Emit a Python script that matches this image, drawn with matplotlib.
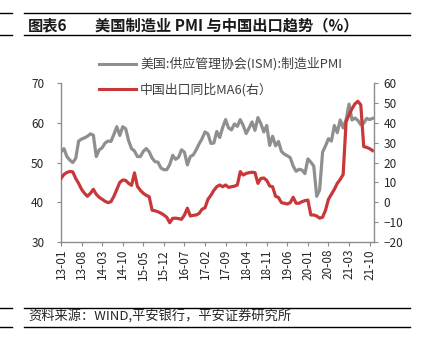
"""
美国制造业PMI 与 中国出口同比MA6 - 双轴折线图
"""

import matplotlib
matplotlib.use("Agg")
import matplotlib.pyplot as plt
from matplotlib.lines import Line2D

plt.rcParams["font.family"] = ["Noto Sans CJK SC", "DejaVu Sans"]

# 月份 2013-01 .. 2021-11
tick_labels = ["13-01", "13-08", "14-03", "14-10", "15-05", "15-12", "16-07", "17-02",
               "17-09", "18-04", "18-11", "19-06", "20-01", "20-08", "21-03", "21-10"]

# 美国:供应管理协会(ISM):制造业PMI  (左轴)
pmi = [52.7, 53.5, 51.5, 50.6, 50.0, 51.0, 55.4, 55.9, 56.2, 56.6, 57.2, 56.9,
       51.5, 53.2, 53.7, 54.9, 55.4, 55.3, 57.1, 59.0, 56.8, 59.0, 58.5, 55.5,
       53.5, 52.9, 51.5, 51.5, 52.8, 53.5, 52.7, 51.1, 50.2, 50.1, 48.6, 48.2,
       48.2, 49.5, 51.8, 50.8, 51.3, 53.2, 52.6, 49.4, 51.5, 51.9, 53.2, 54.7,
       56.0, 57.7, 57.2, 54.8, 54.9, 57.8, 56.3, 58.8, 60.8, 58.7, 58.2, 59.7,
       59.1, 60.8, 59.3, 57.3, 58.7, 60.2, 58.1, 61.3, 59.8, 57.7, 59.3, 54.3,
       56.6, 54.2, 55.3, 52.8, 52.1, 51.7, 51.2, 49.1, 47.8, 48.3, 48.1, 47.2,
       50.9, 50.1, 49.1, 41.5, 43.1, 52.6, 54.2, 56.0, 55.4, 59.3, 57.5, 60.7,
       58.7, 60.8, 64.7, 60.7, 61.2, 60.6, 59.5, 59.9, 61.1, 60.8, 61.1]

# 中国出口同比MA6 (右轴)
export_ma6 = [12, 14, 15, 15.5, 15.3, 12, 9.5, 6.5, 4.5, 3, 4.5, 6.5,
              4, 2.5, 1.5, 0.5, -0.2, 0.3, 3, 6.5, 10, 11.2, 11, 9.5,
              8.5, 14.8, 8, 6, 4.5, 3.5, 2.8, -4, -4.3, -4.8, -5.5, -6.4,
              -7.6, -10.3, -8.1, -8, -8.2, -8.6, -6.4, -3, -6.9, -6.6, -6.4, -5.6,
              -3.5, -2.8, 1.5, 3.5, 6, 7.8, 8.7, 7.8, 8.7, 7.5, 7.8, 8.1,
              8.7, 15.4, 13.7, 14.5, 14.9, 15.1, 14.9, 9.5, 12, 12.2, 11, 8.2,
              7.8, 3, 2.4, -0.2, -0.5, -0.9, -0.2, 2.5, -0.5, -0.5, 0.3, 0.8,
              1.1, -6.4, -6.4, -6.9, -8, -7.5, -4, 1.5, 4, 6.5, 9.5, 11.5,
              14, 40.5, 44, 47, 49.5, 50.8, 49, 28, 27.6, 27, 26]

GRAY = "#8f8f8f"
RED = "#c8373a"
AXIS = "#8c8c8c"
TXT = "#262626"


def main():
    fig = plt.figure(figsize=(4.21, 3.38), dpi=100)
    ax = fig.add_axes([0.1449, 0.284, 0.7435, 0.4704])
    ax2 = ax.twinx()

    x = list(range(len(pmi)))
    ax.plot(x, pmi, color=GRAY, lw=2.3, solid_joinstyle="round")
    ax2.plot(x, export_ma6, color=RED, lw=2.3, solid_joinstyle="round")

    ax.set_xlim(0, 106.5)
    ax.set_ylim(30, 70)
    ax2.set_ylim(-20, 60)
    ax.set_yticks([30, 40, 50, 60, 70])
    ax2.set_yticks(range(-20, 61, 10))
    ax.set_xticks(range(0, 106, 7))
    ax.set_xticklabels(tick_labels, rotation=90)

    for a in (ax, ax2):
        a.spines["top"].set_visible(False)
        for s in ("left", "right", "bottom"):
            a.spines[s].set_color(AXIS)
            a.spines[s].set_linewidth(1.0)
        a.tick_params(length=3, width=0.8, color=AXIS, labelsize=8.5,
                      labelcolor=TXT, pad=2)
    ax.spines["right"].set_visible(False)
    ax2.spines["left"].set_visible(False)
    ax2.spines["bottom"].set_visible(False)
    ax.tick_params(axis="y", pad=9)
    ax2.tick_params(axis="y", pad=4)

    handles = [Line2D([], [], color=GRAY, lw=2.2), Line2D([], [], color=RED, lw=2.2)]
    fig.legend(handles, ["美国:供应管理协会(ISM):制造业PMI", "中国出口同比MA6(右）"],
               loc="upper left", bbox_to_anchor=(0.236, 0.83), frameon=False,
               fontsize=9.3, handlelength=2.8, handletextpad=0.35, labelspacing=0.95,
               borderpad=0, borderaxespad=0, labelcolor="#404040")

    # 标题 & 来源
    fig.text(0.0665, 0.926, "图表6", fontsize=11, fontweight="bold",
             va="center", color="#1a1a1a")
    fig.text(0.2257, 0.926, "美国制造业 PMI 与中国出口趋势（%）", fontsize=11,
             fontweight="bold", va="center", color="#1a1a1a")
    fig.text(0.0665, 0.062, "资料来源：WIND,平安银行，平安证券研究所", fontsize=9.5,
             style="italic", va="center", color="#262626")

    for yy in (0.9624, 0.8964, 0.0896, 0.0334):
        fig.add_artist(Line2D([0, 12 / 421], [yy, yy], color="black", lw=1.0))
        fig.add_artist(Line2D([24 / 421, 410 / 421], [yy, yy], color="black", lw=1.0))

    fig.savefig("out.png", dpi=100)


if __name__ == "__main__":
    main()
